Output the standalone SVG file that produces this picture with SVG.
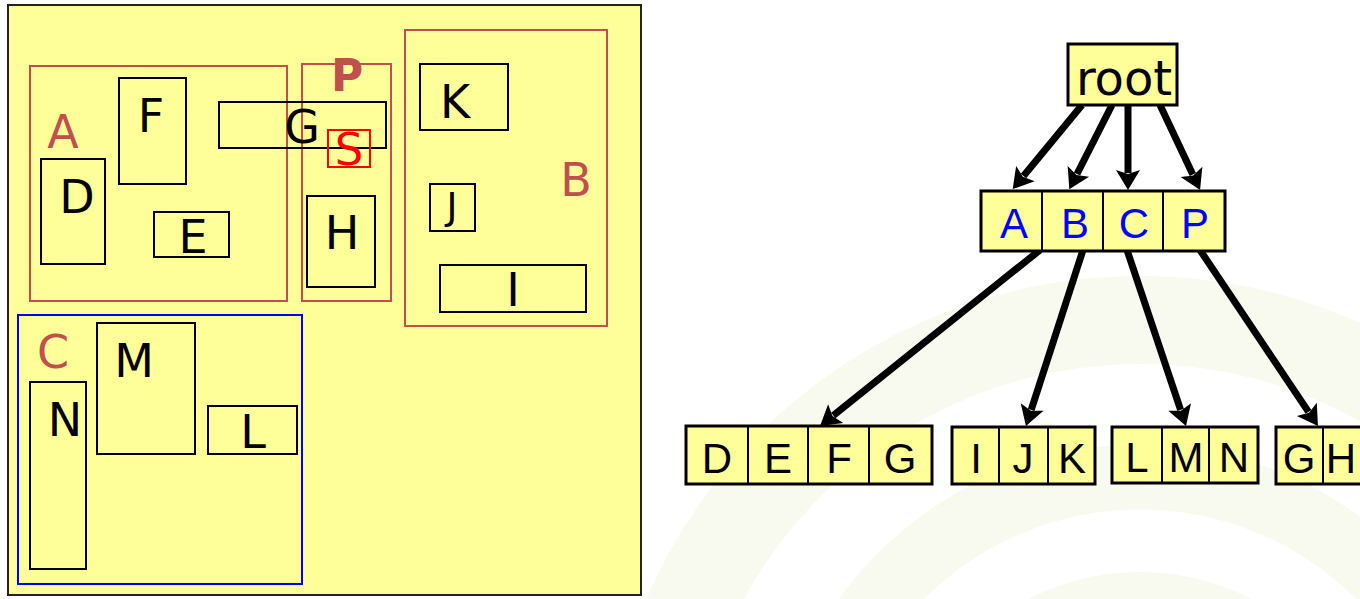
<svg xmlns="http://www.w3.org/2000/svg" width="1360" height="599" viewBox="0 0 1360 599">
<style>
.bg{fill:#ffffff}
.wm{fill:none;stroke:#f8faf0}
.panel{fill:#ffff99;stroke:#222222;stroke-width:2}
.obj{fill:none;stroke:#000000;stroke-width:2}
.grp{fill:none;stroke:#c0504d;stroke-width:2}
.grpc{fill:none;stroke:#0000ff;stroke-width:2}
.srect{fill:none;stroke:#ff0000;stroke-width:2}
.lt{font-family:"DejaVu Sans",Verdana,sans-serif;font-size:46px;text-anchor:middle;fill:#000000}
.lg{font-family:"DejaVu Sans",Verdana,sans-serif;font-size:46px;text-anchor:middle;fill:#c0504d}
.lp{font-family:"DejaVu Sans",Verdana,sans-serif;font-size:44px;font-weight:bold;text-anchor:middle;fill:#c0504d}
.ls{font-family:"DejaVu Sans",Verdana,sans-serif;font-size:45px;text-anchor:middle;fill:#ff0000}
.node{fill:#ffff99;stroke:#000000;stroke-width:3}
.div{stroke:#000000;stroke-width:2}
.root{font-family:"DejaVu Sans",Verdana,sans-serif;font-size:48px;text-anchor:middle;fill:#000000}
.kb{font-family:"Liberation Sans",Arial,sans-serif;font-size:42px;text-anchor:middle;fill:#0000ff}
.kk{font-family:"Liberation Sans",Arial,sans-serif;font-size:42px;text-anchor:middle;fill:#000000}
.edge{stroke:#000000;stroke-width:7;fill:none;marker-end:url(#ah)}
</style>
<defs>
<marker id="ah" markerUnits="userSpaceOnUse" markerWidth="24" markerHeight="28" viewBox="0 -14 24 28" refX="3" refY="0" orient="auto" overflow="visible">
<path d="M0,-12 L20,0 L0,12 L4,0 z" fill="#000000"/>
</marker>
</defs>
<rect class="bg" x="0" y="0" width="1360" height="599"/>
<g id="watermark">
<circle class="wm" cx="1140" cy="815" r="495" stroke-width="88"/>
<circle class="wm" cx="1140" cy="815" r="338" stroke-width="65"/>
<circle class="wm" cx="1140" cy="815" r="200" stroke-width="86"/>
</g>
<g id="left-panel">
<rect class="panel" x="8" y="5" width="633" height="590"/>
<g id="group-A"><rect class="grp" x="30" y="66" width="257" height="235"/><text class="lg" x="63" y="148">A</text></g>
<g id="group-P"><rect class="grp" x="302" y="64" width="89" height="237"/><text class="lp" x="347" y="91">P</text></g>
<g id="group-B"><rect class="grp" x="405" y="30" width="202" height="296"/><text class="lg" x="576" y="196">B</text></g>
<g id="group-C"><rect class="grpc" x="18" y="315" width="284" height="269"/><text class="lg" x="53" y="368">C</text></g>
<g id="obj-F"><rect class="obj" x="119" y="78" width="67" height="106"/><text class="lt" x="151" y="132">F</text></g>
<g id="obj-D"><rect class="obj" x="41" y="159" width="64" height="105"/><text class="lt" x="77" y="213">D</text></g>
<g id="obj-E"><rect class="obj" x="154" y="212" width="75" height="45"/><text class="lt" x="193" y="253">E</text></g>
<g id="obj-G"><rect class="obj" x="219" y="102" width="167" height="46"/><text class="lt" x="302" y="143">G</text></g>
<g id="obj-S"><rect class="srect" x="328" y="130" width="42" height="37"/><text class="ls" x="349" y="165">S</text></g>
<g id="obj-H"><rect class="obj" x="307" y="196" width="68" height="91"/><text class="lt" x="342" y="249">H</text></g>
<g id="obj-K"><rect class="obj" x="420" y="64" width="88" height="66"/><text class="lt" x="455" y="118">K</text></g>
<g id="obj-J"><rect class="obj" x="430" y="184" width="45" height="47"/><text class="lt" x="452" y="219" style="font-size:37px">J</text></g>
<g id="obj-I"><rect class="obj" x="440" y="265" width="146" height="47"/><text class="lt" x="513" y="306">I</text></g>
<g id="obj-M"><rect class="obj" x="97" y="323" width="98" height="131"/><text class="lt" x="134" y="377">M</text></g>
<g id="obj-N"><rect class="obj" x="30" y="382" width="56" height="187"/><text class="lt" x="65" y="436">N</text></g>
<g id="obj-L"><rect class="obj" x="208" y="406" width="89" height="48"/><text class="lt" x="253" y="448">L</text></g>
</g>
<g id="connectors">
<line class="edge" x1="1082" y1="105" x2="1023.5" y2="176"/>
<line class="edge" x1="1112" y1="105" x2="1077" y2="174"/>
<line class="edge" x1="1128" y1="105" x2="1128" y2="173"/>
<line class="edge" x1="1160" y1="105" x2="1192.8" y2="174.6"/>
<line class="edge" x1="1040" y1="250" x2="833.3" y2="415.4"/>
<line class="edge" x1="1083" y1="250" x2="1031.2" y2="409.8"/>
<line class="edge" x1="1127" y1="250" x2="1180.6" y2="409.9"/>
<line class="edge" x1="1200" y1="250" x2="1308.5" y2="411.9"/>
</g>
<g id="node-root">
<rect class="node" x="1068" y="44" width="109" height="61"/>
<text class="root" x="1124" y="95">root</text>
</g>
<g id="node-ABCP">
<rect class="node" x="981" y="191" width="244" height="60"/>
<line class="div" x1="1042" y1="191" x2="1042" y2="251"/>
<line class="div" x1="1103" y1="191" x2="1103" y2="251"/>
<line class="div" x1="1163" y1="191" x2="1163" y2="251"/>
<text class="kb" x="1014" y="238">A</text>
<text class="kb" x="1075" y="238">B</text>
<text class="kb" x="1134" y="238">C</text>
<text class="kb" x="1195" y="238">P</text>
</g>
<g id="node-DEFG">
<rect class="node" x="686" y="426" width="246" height="58"/>
<line class="div" x1="748" y1="426" x2="748" y2="484"/>
<line class="div" x1="808" y1="426" x2="808" y2="484"/>
<line class="div" x1="869" y1="426" x2="869" y2="484"/>
<text class="kk" x="717" y="473">D</text>
<text class="kk" x="778" y="473">E</text>
<text class="kk" x="839" y="473">F</text>
<text class="kk" x="900" y="473">G</text>
</g>
<g id="node-IJK">
<rect class="node" x="952" y="427" width="143" height="57"/>
<line class="div" x1="999" y1="427" x2="999" y2="484"/>
<line class="div" x1="1048" y1="427" x2="1048" y2="484"/>
<text class="kk" x="976" y="473">I</text>
<text class="kk" x="1023" y="473">J</text>
<text class="kk" x="1072" y="473">K</text>
</g>
<g id="node-LMN">
<rect class="node" x="1112" y="427" width="146" height="56"/>
<line class="div" x1="1162" y1="427" x2="1162" y2="483"/>
<line class="div" x1="1209" y1="427" x2="1209" y2="483"/>
<text class="kk" x="1137" y="472">L</text>
<text class="kk" x="1186" y="472">M</text>
<text class="kk" x="1234" y="472">N</text>
</g>
<g id="node-GH">
<rect class="node" x="1276" y="427" width="96" height="57"/>
<line class="div" x1="1323" y1="427" x2="1323" y2="484"/>
<text class="kk" x="1299" y="473">G</text>
<text class="kk" x="1341" y="473">H</text>
</g>
</svg>
